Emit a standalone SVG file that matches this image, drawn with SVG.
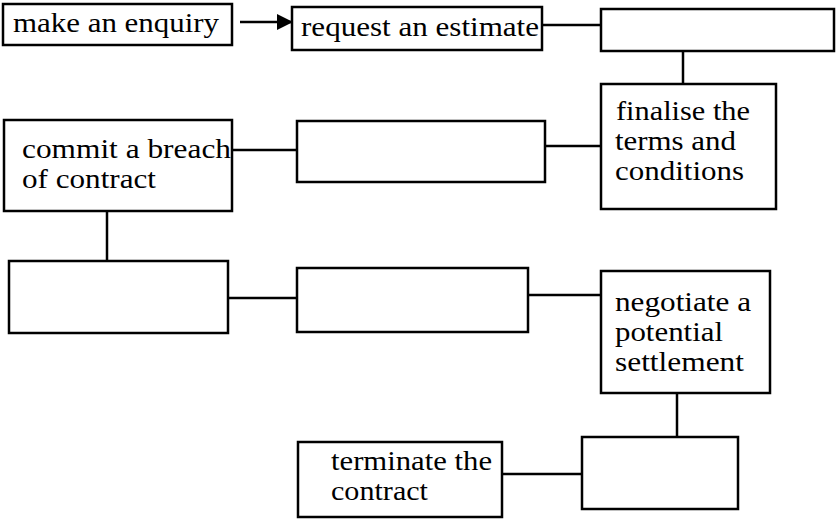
<svg xmlns="http://www.w3.org/2000/svg" width="836" height="519" viewBox="0 0 836 519">
<defs>
<style>
.box{fill:#fff;stroke:#000;stroke-width:2.5}
.c{stroke:#000;stroke-width:2.5;fill:none}
text{lengthAdjust:spacingAndGlyphs}
</style>
<marker id="ah" markerWidth="16" markerHeight="16" refX="16" refY="8" orient="auto" markerUnits="userSpaceOnUse" viewBox="0 0 16 16">
<path d="M0,0 L16,8 L0,16 Z" fill="#000"/>
</marker>
</defs>
<rect width="836" height="519" fill="#fff"/>
<g id="connectors">
<line class="c" x1="240" y1="22" x2="293" y2="22" marker-end="url(#ah)"/>
<line class="c" x1="542" y1="25" x2="601" y2="25"/>
<line class="c" x1="683" y1="51" x2="683" y2="84"/>
<line class="c" x1="543" y1="146" x2="601" y2="146"/>
<line class="c" x1="232" y1="150" x2="297" y2="150"/>
<line class="c" x1="107" y1="211" x2="107" y2="262"/>
<line class="c" x1="226" y1="298" x2="297" y2="298"/>
<line class="c" x1="527" y1="295" x2="601" y2="295"/>
<line class="c" x1="677" y1="393" x2="677" y2="437"/>
<line class="c" x1="500" y1="474" x2="582" y2="474"/>
</g>
<g font-family="Liberation Serif, DejaVu Serif, serif" font-size="27" fill="#000">
<g id="n1"><rect class="box" x="3" y="4" width="229" height="41"/><text x="13" y="32" textLength="206" lengthAdjust="spacingAndGlyphs">make an enquiry</text></g>
<g id="n2"><rect class="box" x="292" y="7" width="250" height="43"/><text x="301" y="36" textLength="238" lengthAdjust="spacingAndGlyphs">request an estimate</text></g>
<g id="n3"><rect class="box" x="601" y="9" width="233" height="42"/></g>
<g id="n4"><rect class="box" x="601" y="84" width="175" height="125"/><text x="616" y="120" textLength="134" lengthAdjust="spacingAndGlyphs">finalise the</text><text x="615" y="150" textLength="121" lengthAdjust="spacingAndGlyphs">terms and</text><text x="615" y="180" textLength="129" lengthAdjust="spacingAndGlyphs">conditions</text></g>
<g id="n5"><rect class="box" x="297" y="121" width="248" height="61"/></g>
<g id="n6"><rect class="box" x="4" y="120" width="228" height="91"/><text x="22" y="158" textLength="209" lengthAdjust="spacingAndGlyphs">commit a breach</text><text x="22" y="188" textLength="134" lengthAdjust="spacingAndGlyphs">of contract</text></g>
<g id="n7"><rect class="box" x="9" y="261" width="219" height="72"/></g>
<g id="n8"><rect class="box" x="297" y="268" width="231" height="64"/></g>
<g id="n9"><rect class="box" x="601" y="271" width="169" height="122"/><text x="615" y="311" textLength="136" lengthAdjust="spacingAndGlyphs">negotiate a</text><text x="615" y="341" textLength="108" lengthAdjust="spacingAndGlyphs">potential</text><text x="615" y="371" textLength="129" lengthAdjust="spacingAndGlyphs">settlement</text></g>
<g id="n10"><rect class="box" x="582" y="437" width="156" height="72"/></g>
<g id="n11"><rect class="box" x="298" y="442" width="204" height="75"/><text x="331" y="470" textLength="161" lengthAdjust="spacingAndGlyphs">terminate the</text><text x="331" y="500" textLength="97" lengthAdjust="spacingAndGlyphs">contract</text></g>
</g>
</svg>
